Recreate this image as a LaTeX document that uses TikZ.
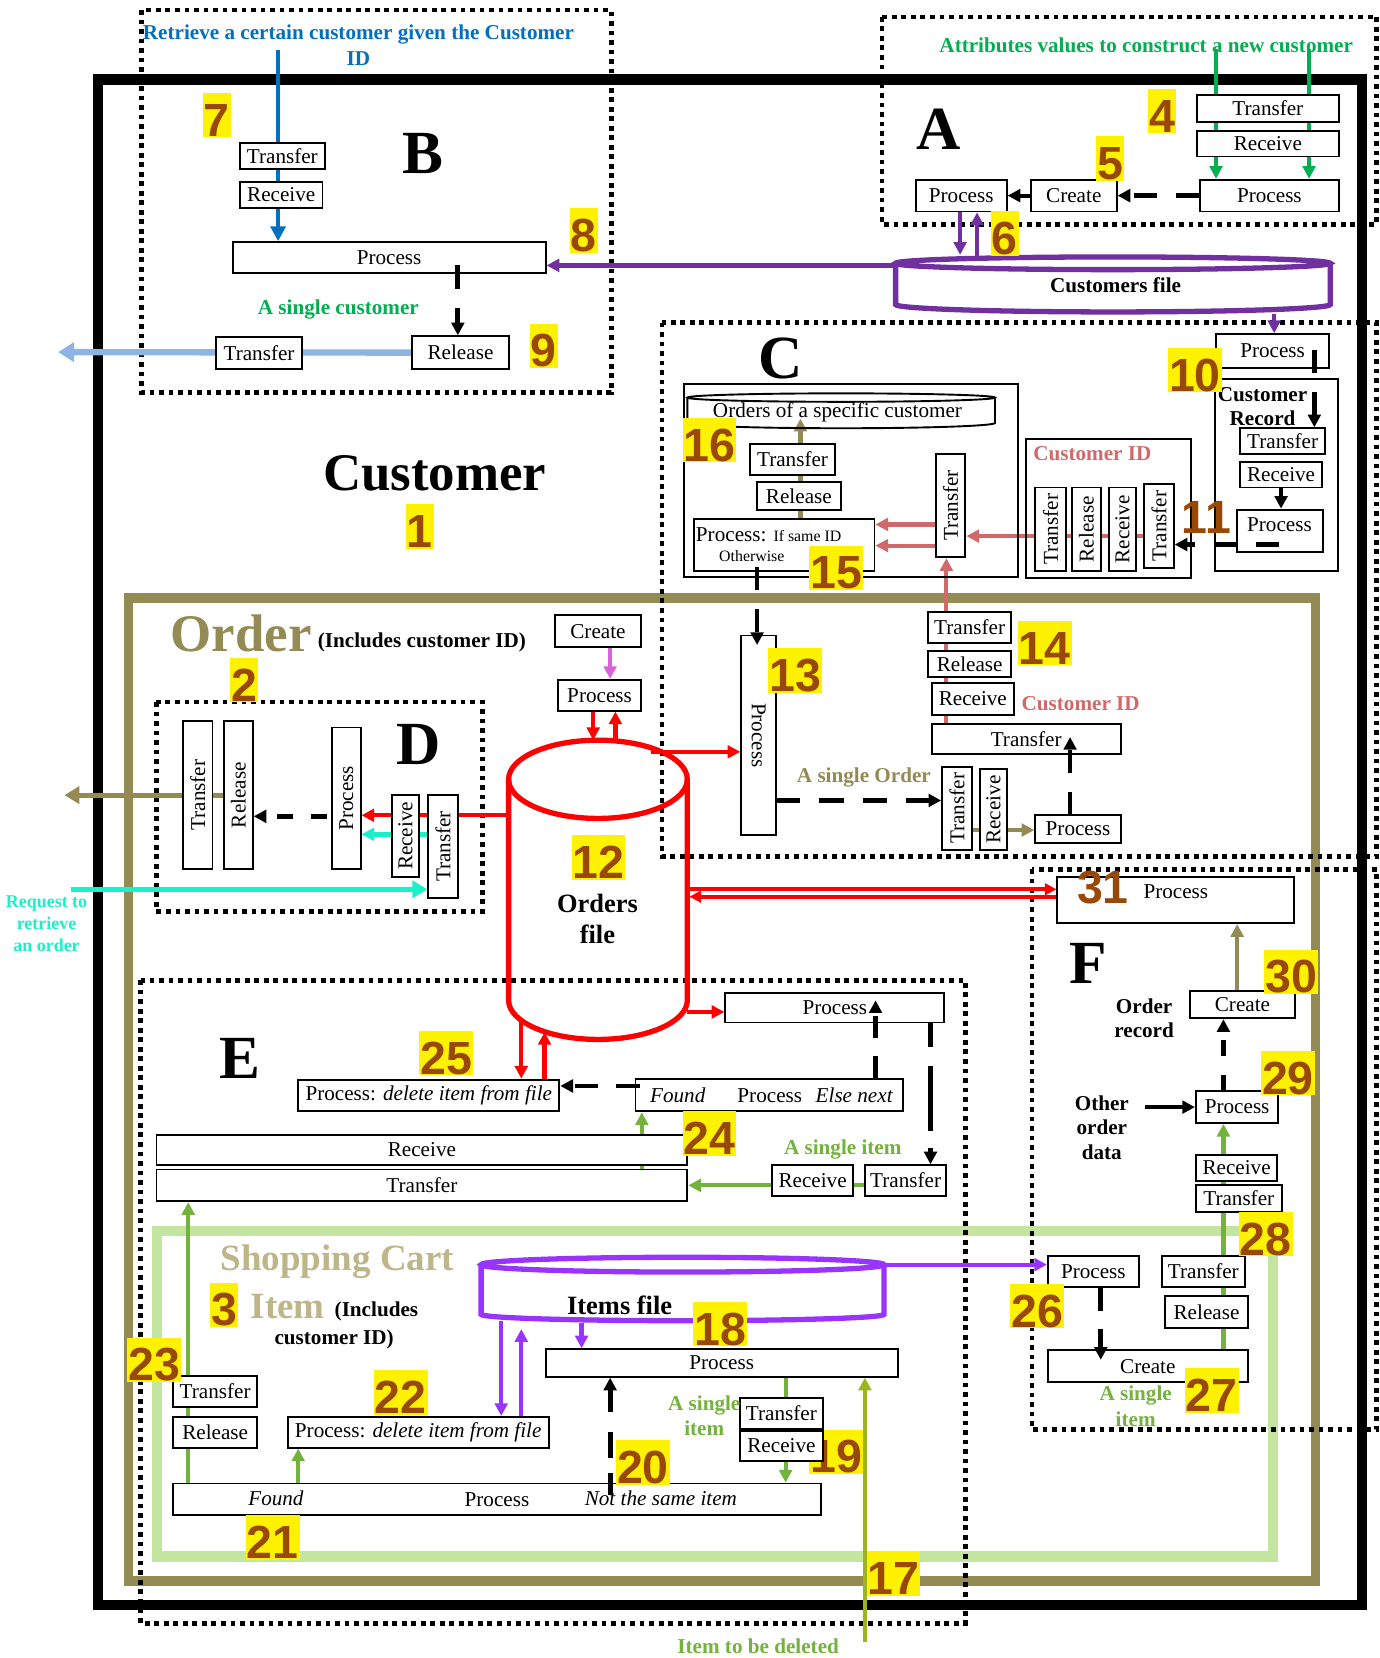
\documentclass[tikz,border=0pt]{standalone}
\usepackage{fontspec}
\setmainfont{Liberation Serif}
\newfontfamily\numfont{Liberation Sans}
\usetikzlibrary{arrows.meta}
\pgfdeclarelayer{frames}
\pgfdeclarelayer{lines}
\pgfsetlayers{frames,lines,main}
\definecolor{khaki}{RGB}{148,138,84}
\definecolor{numbrown}{RGB}{153,72,6}
\definecolor{gA}{RGB}{0,176,80}
\definecolor{gB}{RGB}{116,178,62}
\definecolor{lgreen}{RGB}{195,229,159}
\definecolor{tanx}{RGB}{190,181,136}
\definecolor{olivex}{RGB}{158,180,30}
\definecolor{pinkr}{RGB}{208,106,106}
\definecolor{magen}{RGB}{218,98,218}
\definecolor{cyanx}{RGB}{28,240,200}
\definecolor{blueA}{RGB}{0,112,192}
\definecolor{lblue}{RGB}{141,180,226}
\definecolor{purpA}{RGB}{112,48,160}
\definecolor{purpB}{RGB}{153,51,255}
\definecolor{redx}{RGB}{255,0,0}
\tikzset{
 bxfont/.style={font=\fontsize{20}{22}\selectfont},
 bx/.style={draw, line width=1.8pt, fill=white, inner sep=0pt, bxfont},
 cont/.style={draw, line width=1.8pt, inner sep=0pt},
 dotframe/.style={draw, line width=4.5pt, dash pattern=on 4.5pt off 4.5pt},
 numlbl/.style={fill=yellow, text=numbrown, inner xsep=1pt, inner ysep=0pt, text height=41pt, text depth=1pt, font=\numfont\bfseries\fontsize{44}{44}\selectfont},
 numplain/.style={text=numbrown, inner sep=0pt, font=\numfont\bfseries\fontsize{44}{44}\selectfont},
 bigletter/.style={font=\bfseries\fontsize{58}{58}\selectfont, inner sep=0pt},
 blab/.style={font=\bfseries\fontsize{20}{23}\selectfont, inner sep=0pt, align=center},
 rlab/.style={font=\fontsize{20}{23}\selectfont, inner sep=0pt, align=center},
 arr/.style={-{Triangle[length=12pt,width=12pt]}, line width=4pt},
 dsh/.style={arr, color=black, line width=4.5pt, dash pattern=on 22pt off 18pt},
}
\newcommand{\mkbox}[6]{\node[bx, minimum width={#4-#2}, minimum height={#5-#3}] (#1) at ({(#2+#4)/2},{(#3+#5)/2}) {#6};}
\newcommand{\mkvbox}[7]{\node[bx, minimum width={#4-#2}, minimum height={#5-#3}] (#1) at ({(#2+#4)/2},{(#3+#5)/2}) {};\node[rotate=#7, bxfont, inner sep=0pt] (#1t) at (#1.center) {#6};}
\newcommand{\mkcont}[5]{\node[cont, minimum width={#4-#2}, minimum height={#5-#3}] (#1) at ({(#2+#4)/2},{(#3+#5)/2}) {};}
\newcommand{\mknum}[4]{\node[numlbl] (#1) at (#2,#3) {#4};}
\begin{document}
\begin{tikzpicture}[x=1pt,y=-1pt]
\useasboundingbox (0,0) rectangle (1305,1568);
\begin{pgfonlayer}{frames}
\fill[white] (0,0) rectangle (1305,1568);
\draw[line width=10pt] (92.5,75) rectangle (1288,1518);
\draw[khaki, line width=9pt] (121.5,565.5) rectangle (1244,1495);
\draw[lgreen, line width=10pt] (148.5,1164) rectangle (1204,1472);
\draw[dotframe] (134,9.5) rectangle (578,371);
\draw[dotframe] (834,16) rectangle (1302,212);
\draw[dotframe] (626,305) rectangle (1302,810);
\draw[dotframe] (976,822) rectangle (1302,1352);
\draw[dotframe] (148,664) rectangle (456,862);
\draw[dotframe] (133,927) rectangle (913,1535);
\end{pgfonlayer}

% ---------- cylinders ----------
\draw[purpA, line width=5pt] (1052.5,249) ellipse [x radius=205.5pt, y radius=6pt];
\draw[purpA, line width=5pt] (847,249) -- (847,288) .. controls (847,291.9) and (939.1,295) .. (1052.5,295) .. controls (1165.9,295) and (1258,291.9) .. (1258,288) -- (1258,249);
\draw[redx, line width=5pt] (565.5,737) ellipse [x radius=84.5pt, y radius=37pt];
\draw[redx, line width=5pt] (481,737) -- (481,946) .. controls (481,966.4) and (518.9,983) .. (565.5,983) .. controls (612.1,983) and (650,966.4) .. (650,946) -- (650,737);
\draw[line width=1.8pt] (795.5,376) ellipse [x radius=145.5pt, y radius=4pt];
\draw[line width=1.8pt] (650,376) -- (650,400) .. controls (650,402.8) and (715.2,405) .. (795.5,405) .. controls (875.8,405) and (941,402.8) .. (941,400) -- (941,376);
\draw[purpB, line width=5pt] (645.5,1196) ellipse [x radius=190.5pt, y radius=7pt];
\draw[purpB, line width=5pt] (455,1196) -- (455,1243) .. controls (455,1246.3) and (540.3,1249) .. (645.5,1249) .. controls (750.7,1249) and (836,1246.3) .. (836,1243) -- (836,1196);

% ---------- containers ----------
\mkcont{cbox}{647}{363}{963}{546}
\mkcont{cidbox}{970}{415}{1126}{547}
\mkcont{recbox}{1149}{358}{1265}{540}

% ---------- A ----------
\mkbox{aT}{1132}{90}{1266}{115}{Transfer}
\mkbox{aR}{1132}{124}{1266}{148}{Receive}
\mkbox{aP2}{1135}{170}{1266}{200}{Process}
\mkbox{aC}{975}{170}{1056}{200}{Create}
\mkbox{aP1}{866}{170}{952}{200}{Process}
% ---------- B ----------
\mkbox{bT}{227}{135}{307}{160}{Transfer}
\mkbox{bR}{227}{172}{305}{197}{Receive}
\mkbox{bP}{220}{229}{516}{258}{Process}
\mkbox{bRel}{390}{318}{481}{349}{Release}
\mkbox{bT2}{204}{319}{286}{349}{Transfer}
% ---------- C ----------
\mkbox{cT16}{709}{420}{790}{449}{Transfer}
\mkbox{cRel16}{716}{456}{795}{482}{Release}
\mkbox{cP15}{656}{491}{827}{540}{}
\mkvbox{cVT}{885}{429}{913}{527}{Transfer}{90}
\mkvbox{ciT1}{979}{461}{1008}{540}{Transfer}{90}
\mkvbox{ciR}{1014}{461}{1041}{540}{Release}{90}
\mkvbox{ciRc}{1049}{461}{1074}{540}{Receive}{90}
\mkvbox{ciT2}{1082}{458}{1110}{537}{Transfer}{90}
\mkbox{p10}{1150}{316}{1257}{348}{Process}
\mkbox{rT}{1173}{405}{1253}{429}{Transfer}
\mkbox{rR}{1173}{437}{1250}{461}{Receive}
\mkbox{rP}{1170}{482}{1251}{522}{}
% ---------- Order ----------
\mkbox{oC}{525}{582}{606}{612}{Create}
\mkbox{oP}{528}{643}{606}{672}{Process}
\mkvbox{p13}{701}{601}{734}{790}{Process}{-90}
\mkbox{c14T}{878}{579}{956}{608}{Transfer}
\mkbox{c14Rel}{878}{616}{956}{640}{Release}
\mkbox{c14Rc}{881}{646}{959}{676}{Receive}
\mkbox{cTw}{881}{685}{1060}{713}{Transfer}
\mkvbox{soT}{891}{725}{919}{804}{Transfer}{90}
\mkvbox{soR}{927}{727}{952}{804}{Receive}{90}
\mkbox{soP}{979}{771}{1060}{797}{Process}
% ---------- D ----------
\mkvbox{dT}{173}{682}{201}{822}{Transfer}{90}
\mkvbox{dRel}{212}{682}{239}{822}{Release}{90}
\mkvbox{dP}{314}{688}{341}{822}{Process}{90}
\mkvbox{dRc}{371}{752}{396}{829}{Receive}{90}
\mkvbox{dT2}{405}{752}{433}{849}{Transfer}{90}
% ---------- F ----------
\mkbox{p31}{1000}{829}{1224}{873}{}
\mkbox{c30}{1125}{937}{1225}{963}{Create}
\mkbox{p29}{1131}{1032}{1209}{1062}{Process}
\mkbox{r28}{1131}{1092}{1208}{1117}{Receive}
\mkbox{t28}{1131}{1121}{1212}{1146}{Transfer}
\mkbox{p26}{991}{1188}{1077}{1217}{Process}
\mkbox{t27}{1099}{1188}{1177}{1217}{Transfer}
\mkbox{rel27}{1102}{1226}{1180}{1256}{Release}
\mkbox{c27}{991}{1277}{1180}{1307}{Create}
% ---------- E ----------
\mkbox{pE}{686}{939}{893}{967}{Process}
\mkbox{p25}{282}{1021}{529}{1051}{Process: \textit{delete item from file}}
\mkbox{fE}{601}{1020}{854}{1051}{}
\mkbox{rW}{148}{1073}{650}{1102}{Receive}
\mkbox{tW}{148}{1106}{650}{1136}{Transfer}
\mkbox{rE}{730}{1102}{807}{1131}{Receive}
\mkbox{tE}{818}{1102}{895}{1131}{Transfer}
% ---------- Shopping cart ----------
\mkbox{p18}{516}{1276}{849}{1302}{Process}
\mkbox{t23}{164}{1301}{243}{1331}{Transfer}
\mkbox{rel23}{164}{1340}{243}{1369}{Release}
\mkbox{p22}{272}{1340}{519}{1369}{Process: \textit{delete item from file}}
\mkbox{t19}{700}{1322}{778}{1351}{Transfer}
\mknum{n19}{791}{1373}{19}
\mkbox{r19}{700}{1353}{778}{1382}{Receive}
\mkbox{f21}{164}{1403}{776}{1433}{}

% ---------- coordinates ----------
\coordinate (aIn1) at (1150,46);
\coordinate (aIn2) at (1238,46);
\coordinate (cfT1) at (908,241);
\coordinate (cfT2) at (924,244);
\coordinate (bIn) at (263,47);
\coordinate (cfL) at (847,251);
\coordinate (bOut) at (55,333);
\coordinate (bD) at (433,251);
\coordinate (cfB) at (1205,297);
\coordinate (ocB) at (757,396);
\coordinate (yPa) at (0,496);
\coordinate (yPb) at (0,516);
\coordinate (yCI) at (0,507);
\coordinate (xPk) at (895,0);
\coordinate (rD1) at (1243,331);
\coordinate (rD2) at (1210,515);
\coordinate (xMg) at (577,0);
\coordinate (ofT1) at (561,700);
\coordinate (ofT2) at (582,703);
\coordinate (of13) at (616,711);
\coordinate (ofD) at (481,771);
\coordinate (cyA) at (410,789);
\coordinate (cyIn) at (67,841);
\coordinate (dOut) at (61,752);
\coordinate (dD) at (309,772);
\coordinate (ofR1) at (650,841);
\coordinate (ofR2) at (652,848);
\coordinate (ofE) at (650,957);
\coordinate (ofB1) at (493,965);
\coordinate (ofB2) at (515,976);
\coordinate (d15) at (716,536);
\coordinate (d13) at (716,610);
\coordinate (d13b) at (734,757);
\coordinate (kso) at (905,785);
\coordinate (dso) at (1012,771);
\coordinate (dso2) at (1012,697);
\coordinate (xK30) at (1170,0);
\coordinate (d29) at (1157,1032);
\coordinate (odIn) at (1083,1047);
\coordinate (x28) at (1157,0);
\coordinate (d26) at (1041,1217);
\coordinate (d27) at (1041,1286);
\coordinate (ifR) at (836,1196);
\coordinate (dE1) at (828,1020);
\coordinate (dE2) at (828,946);
\coordinate (dE3) at (880,967);
\coordinate (dE4) at (605,1027);
\coordinate (gE1) at (607,1110);
\coordinate (gE2) at (820,1121);
\coordinate (g23) at (178,1403);
\coordinate (g22) at (282,0);
\coordinate (ifB1) at (550,1251);
\coordinate (ifB2) at (474,1249);
\coordinate (ifB3) at (493,1257);
\coordinate (d20) at (577,1414);
\coordinate (g19) at (743,0);
\coordinate (in17) at (818,1553);

% ---------- connectors under boxes ----------
\begin{pgfonlayer}{lines}
\draw[arr, color=gA] (aIn1) -- (aIn1 |- aP2.north);
\draw[arr, color=gA] (aIn2) -- (aIn2 |- aP2.north);
\draw[arr] (aC.west) -- (aP1.east);
\draw[arr, color=purpA] (aP1.south -| cfT1) -- (cfT1);
\draw[arr, color=purpA] (cfT2) -- (aP1.south -| cfT2);
\draw[color=blueA, line width=4pt, -{Triangle[length=14pt,width=14pt]}] (bIn) -- (bIn |- bP.north);
\draw[arr, color=purpA, line width=4.5pt] (cfL) -- (cfL -| bP.east);
\draw[color=lblue, line width=6pt, -{Triangle[length=15pt,width=18pt]}] (bRel.west) -- (bOut);
\draw[arr, color=purpA] (cfB) -- (cfB |- p10.north);
\draw[arr, color=khaki] (cP15.north -| ocB) -- (ocB);
\draw[arr, color=pinkr] (cVT.west |- yPa) -- (cP15.east |- yPa);
\draw[arr, color=pinkr] (cVT.west |- yPb) -- (cP15.east |- yPb);
\draw[arr, color=pinkr] (ciT2.east |- yCI) -- (cVT.east |- yCI);
\draw[arr, color=pinkr] (cTw.north -| xPk) -- (cVT.south -| xPk);
\draw[arr, line width=3.5pt] (rR.south) -- (rR.south |- rP.north);
\draw[arr, color=magen] (oC.south -| xMg) -- (oP.north -| xMg);
\draw[arr, color=redx] (oP.south -| ofT1) -- (ofT1);
\draw[arr, color=redx] (ofT2) -- (oP.south -| ofT2);
\draw[arr, color=redx] (of13) -- (of13 -| p13.west);
\draw[arr, color=redx] (ofD) -- (ofD -| dP.east);
\draw[arr, color=cyanx, line width=5pt] (cyA) -- (cyA -| dP.east);
\draw[color=cyanx, line width=5pt, -{Triangle[length=14pt,width=16pt]}] (cyIn) -- (cyIn -| dT2.west);
\draw[color=khaki, line width=5pt, -{Triangle[length=14pt,width=16pt]}] (dOut -| dRel) -- (dOut);
\draw[color=redx, line width=4pt, -{Triangle[length=11pt,width=11pt]}] (ofR1) -- (ofR1 -| p31.west);
\draw[color=redx, line width=4pt, -{Triangle[length=11pt,width=11pt]}] (ofR2 -| p31.west) -- (ofR2);
\draw[arr, color=redx] (ofE) -- (ofE -| pE.west);
\draw[arr, color=redx] (ofB1) -- (ofB1 |- p25.north);
\draw[arr, color=redx] (p25.north -| ofB2) -- (ofB2);
\draw[arr, color=khaki] (kso) -- (kso -| soP.west);
\draw[arr, color=khaki] (c30.north -| xK30) -- (p31.south -| xK30);
\draw[arr] (odIn) -- (odIn -| p29.west);
\draw[arr, color=gB] (c27.north -| x28) -- (p29.south -| x28);
\draw[arr, color=purpB] (ifR) -- (ifR -| p26.west);
\draw[arr, color=gB] (gE1) -- (gE1 |- fE.south);
\draw[arr, color=gB] (gE2) -- (gE2 -| tW.east);
\draw[arr, color=gB] (g23) -- (g23 |- tW.south);
\draw[arr, color=gB] (f21.north -| g22) -- (p22.south -| g22);
\draw[arr, color=purpB] (ifB1) -- (ifB1 |- p18.north);
\draw[arr, color=purpB] (ifB2) -- (ifB2 |- p22.north);
\draw[arr, color=purpB] (p22.north -| ifB3) -- (ifB3);
\draw[arr, color=gB] (p18.south -| g19) -- (f21.north -| g19);
\draw[arr, color=olivex, line width=3.5pt] (in17) -- (in17 |- p18.south);
\end{pgfonlayer}

% ---------- dashed connectors (on top) ----------
\draw[dsh] (aP2.west) -- (aC.east);
\draw[dsh] (bD) -- (bD |- bRel.north);
\draw[dsh] (rD1) -- (rD1 |- rT.north);
\draw[dsh] (rD2) -- (rD2 -| ciT2.east);
\draw[dsh] (d15) -- (d13);
\draw[dsh, dash pattern=on 23pt off 18pt] (d13b) -- (d13b -| soT.west);
\draw[dsh] (dso) -- (dso2);
\draw[dsh, dash pattern=on 15pt off 17pt] (dD) -- (dD -| dRel.east);
\draw[dsh, dash pattern=on 15pt off 18pt] (d29) -- (d29 |- c30.south);
\draw[dsh, dash pattern=on 23pt off 17pt] (d26) -- (d27);
\draw[dsh, dash pattern=on 21pt off 17pt] (dE1) -- (dE2);
\draw[dsh, dash pattern=on 23pt off 18pt on 62pt off 16pt] (dE3) -- (dE3 |- tE.north);
\draw[dsh, dash pattern=on 22pt off 17pt] (dE4) -- (dE4 -| p25.east);
\draw[dsh, dash pattern=on 21pt off 14pt on 25pt off 19pt] (d20) -- (d20 |- p18.south);

% ---------- texts in boxes ----------
\node[anchor=west, inner sep=0pt, bxfont] (p15t) at (658,506) {Process: {\fontsize{15}{17}\selectfont If same ID}};
\node[inner sep=0pt, font=\fontsize{15}{17}\selectfont] (p15t2) at (711,526) {Otherwise};
\node[inner sep=0pt, bxfont] (rPt) at (1210,496) {Process};
\node[inner sep=0pt, bxfont] (p31t) at (1112,843) {Process};
\node[inner sep=0pt, bxfont] (fEt1) at (641,1036) {\textit{Found}};
\node[inner sep=0pt, bxfont] (fEt2) at (728,1036) {Process};
\node[inner sep=0pt, bxfont] (fEt3) at (808,1036) {\textit{Else next}};
\node[inner sep=0pt, bxfont] (f21t1) at (261,1417) {\textit{Found}};
\node[inner sep=0pt, bxfont] (f21t2) at (470,1418) {Process};
\node[inner sep=0pt, bxfont] (f21t3) at (625,1417) {\textit{Not the same item}};

% ---------- labels ----------
\node[blab, text=blueA, font=\bfseries\fontsize{20}{24.5}\selectfont] (bTxt) at (339,43) {Retrieve a certain customer given the Customer\\ID};
\node[blab, text=gA] (aTxt) at (1084,43) {Attributes values to construct a new customer};
\node[blab, text=gA] (bSingle) at (320,293) {A single customer};
\node[blab] (cfTxt) at (1055,270) {Customers file};
\node[rlab] (ocTxt) at (792,390) {Orders of a specific customer};
\node[blab, text=pinkr] (cid1) at (1033,429) {Customer ID};
\node[blab, text=pinkr] (cid2) at (1022,665) {Customer ID};
\node[blab] (crTxt) at (1194,384.5) {Customer\\Record};
\node[blab, text=khaki] (soTxt) at (817,735) {A single Order};
\node[inner sep=0pt, text=khaki, font=\bfseries\fontsize{50}{50}\selectfont] (ordTxt) at (228,599) {Order};
\node[blab] (ordInc) at (399,608) {(Includes customer ID)};
\node[blab, text=cyanx, font=\bfseries\fontsize{17}{20.5}\selectfont] (reqTxt) at (44,873.5) {Request to\\retrieve\\an order};
\node[blab, font=\bfseries\fontsize{25}{30}\selectfont] (ofTxt) at (565,869) {Orders\\file};
\node[blab] (orTxt) at (1082,963) {Order\\record};
\node[blab, font=\bfseries\fontsize{20}{23.5}\selectfont] (odTxt) at (1042,1066.5) {Other\\order\\data};
\node[blab, text=gB] (siE) at (797,1087) {A single item};
\node[blab, text=gB, font=\bfseries\fontsize{20}{24}\selectfont] (si27) at (1074,1330) {A single\\item};
\node[blab, text=gB, font=\bfseries\fontsize{20}{24}\selectfont] (si19) at (666,1339) {A single\\item};
\node[inner sep=0pt, text=tanx, font=\bfseries\fontsize{35}{35}\selectfont] (scTxt) at (319,1193) {Shopping Cart};
\node[inner sep=0pt, text=tanx, font=\bfseries\fontsize{35}{35}\selectfont] (itTxt) at (272,1236) {Item};
\node[blab] (inc3a) at (356,1240) {(Includes};
\node[blab] (inc3b) at (316,1267) {customer ID)};
\node[blab, font=\bfseries\fontsize{25}{30}\selectfont] (ifTxt) at (586,1234) {Items file};
\node[blab, text=gB] (delTxt) at (717,1557) {Item to be deleted};
\node[inner sep=0pt, font=\bfseries\fontsize{50}{50}\selectfont] (custTxt) at (411,448) {Customer};
\node[bigletter] (lA) at (888,122) {A};
\node[bigletter] (lB) at (400,145) {B};
\node[bigletter] (lC) at (738,339) {C};
\node[bigletter] (lD) at (396,704) {D};
\node[bigletter] (lE) at (227,1001) {E};
\node[bigletter] (lF) at (1029,911) {F};

% ---------- numbers ----------
\mknum{n1}{397}{498}{1}
\mknum{n2}{231}{643}{2}
\mknum{n3}{212}{1234}{3}
\mknum{n4}{1099}{105}{4}
\mknum{n5}{1050}{150}{5}
\mknum{n6}{950}{221}{6}
\mknum{n7}{205}{109}{7}
\mknum{n8}{552}{218}{8}
\mknum{n9}{514}{327}{9}
\mknum{n10}{1130}{350}{10}
\node[numplain] (n11) at (1141,489) {11};
\mknum{n12}{566}{811}{12}
\mknum{n13}{752}{634}{13}
\mknum{n14}{988}{608}{14}
\mknum{n15}{791}{537}{15}
\mknum{n16}{671}{416}{16}
\mknum{n17}{845}{1488}{17}
\mknum{n18}{681}{1252}{18}
\mknum{n20}{608}{1383}{20}
\mknum{n21}{258}{1454}{21}
\mknum{n22}{379}{1317}{22}
\mknum{n23}{146}{1286}{23}
\mknum{n24}{671}{1072}{24}
\mknum{n25}{422}{996}{25}
\mknum{n26}{981}{1235}{26}
\mknum{n27}{1146}{1315}{27}
\mknum{n28}{1197}{1167}{28}
\mknum{n29}{1218}{1015}{29}
\mknum{n30}{1221}{919}{30}
\node[numplain] (n31) at (1043,839) {31};
\end{tikzpicture}
\end{document}
